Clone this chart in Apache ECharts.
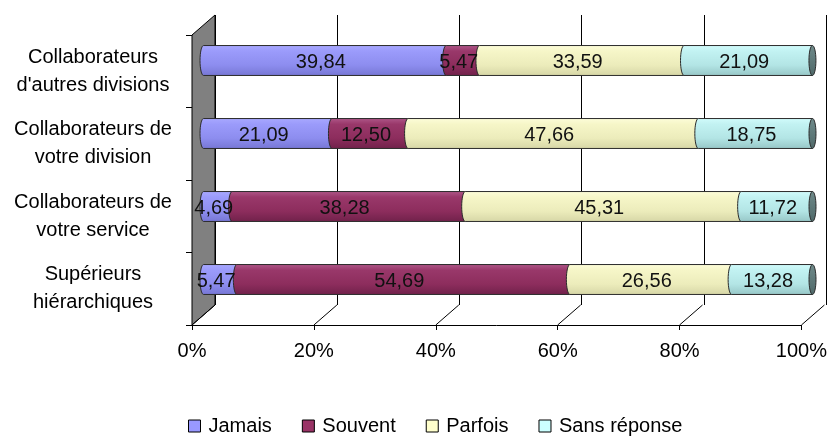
<!DOCTYPE html>
<html>
<head>
<meta charset="utf-8">
<script src="https://cdn.jsdelivr.net/npm/echarts@6/dist/echarts.min.js"></script>
<style>
  html, body { margin: 0; padding: 0; background: #fff; }
  #chart { width: 830px; height: 437px; }
</style>
</head>
<body>
<div id="chart"></div>
<script>
// ---- data ----
const categories = [
  "Collaborateurs\nd'autres divisions",
  "Collaborateurs de\nvotre division",
  "Collaborateurs de\nvotre service",
  "Supérieurs\nhiérarchiques"
];
const seriesNames = ['Jamais', 'Souvent', 'Parfois', 'Sans réponse'];
const jamais      = [39.84, 21.09, 4.69, 5.47];
const souvent     = [5.47, 12.50, 38.28, 54.69];
const parfois     = [33.59, 47.66, 45.31, 26.56];
const sansReponse = [21.09, 18.75, 11.72, 13.28];
const percentTicks = [0, 20, 40, 60, 80, 100];

// ---- layout / style ----
const FONT = "'Liberation Sans', Arial, Helvetica, sans-serif";
const FRONT = { left: 192, top: 35, width: 610, height: 290 };   // front edge of the plot box
const DEPTH = { x: 23, y: -20 };                                 // 3D depth offset of the back wall
const BAR_RATIO = 0.41;
const CAP_RX = 3.5;

const baseColors = ['#9999FF', '#993366', '#FFFFCC', '#CCFFFF'];
const shades = [
  ['#a9a9ff', '#9b9bfb', '#8d8def', '#7676d4'],
  ['#b0588a', '#99386a', '#8d2d5d', '#70214a'],
  ['#fdfdda', '#f6f6c8', '#ececbb', '#d6d6a6'],
  ['#d2fcfc', '#c2f2f2', '#b3e5e5', '#96c6c6']
];
const capShade = ['#6f8a8a', '#4f6969'];

function cylinderFill(stops) {
  return new echarts.graphic.LinearGradient(0, 0, 0, 1, [
    { offset: 0, color: stops[0] },
    { offset: 0.2, color: stops[1] },
    { offset: 0.65, color: stops[2] },
    { offset: 1, color: stops[3] }
  ]);
}

function fmt(v) { return v.toFixed(2).replace('.', ','); }

// stacked segments: [start, categoryIndex, end, value]
const valueLists = [jamais, souvent, parfois, sansReponse];
const segmentData = valueLists.map(() => []);
categories.forEach((c, i) => {
  let acc = 0;
  valueLists.forEach((list, k) => {
    segmentData[k].push([acc, i, acc + list[i], list[i]]);
    acc += list[i];
  });
});

function ellipsePath(cx, cy, rx, ry) {
  const kx = rx * 0.5523, ky = ry * 0.5523;
  return `M${cx} ${cy - ry}` +
    `C${cx + kx} ${cy - ry} ${cx + rx} ${cy - ky} ${cx + rx} ${cy}` +
    `C${cx + rx} ${cy + ky} ${cx + kx} ${cy + ry} ${cx} ${cy + ry}` +
    `C${cx - kx} ${cy + ry} ${cx - rx} ${cy + ky} ${cx - rx} ${cy}` +
    `C${cx - rx} ${cy - ky} ${cx - kx} ${cy - ry} ${cx} ${cy - ry}Z`;
}

function barRenderer(k) {
  const isLast = k === valueLists.length - 1;
  return function (params, api) {
    const start = api.value(0), cat = api.value(1), end = api.value(2), val = api.value(3);
    const p0 = api.coord([start, cat]);
    const p1 = api.coord([end, cat]);
    const h = api.size([0, 1])[1] * BAR_RATIO;
    const mid = p0[1], top = mid - h / 2, bot = mid + h / 2;
    const x0 = p0[0], x1 = p1[0];
    const rx = CAP_RX, kx = rx * 0.5523, ky = (h / 2) * 0.5523;
    const body = `M${x1} ${top}L${x0} ${top}` +
      `C${x0 - kx} ${top} ${x0 - rx} ${mid - ky} ${x0 - rx} ${mid}` +
      `C${x0 - rx} ${mid + ky} ${x0 - kx} ${bot} ${x0} ${bot}` +
      `L${x1} ${bot}`;
    const children = [{
      type: 'path',
      shape: { pathData: body },
      style: { fill: cylinderFill(shades[k]), stroke: '#2b2b2b', lineWidth: 1 }
    }];
    if (isLast) {
      children.push({
        type: 'path',
        shape: { pathData: ellipsePath(x1, mid, rx, h / 2) },
        style: {
          fill: new echarts.graphic.LinearGradient(0, 0, 0, 1, [
            { offset: 0, color: capShade[0] }, { offset: 1, color: capShade[1] }
          ]),
          stroke: '#2b2b2b', lineWidth: 1
        }
      });
    }
    children.push({
      type: 'text',
      x: (x0 + x1) / 2 - 4,
      y: mid + 2,
      z2: 100,
      style: {
        text: fmt(val), fill: '#111', fontSize: 20, fontFamily: FONT,
        align: 'center', verticalAlign: 'middle'
      }
    });
    return { type: 'group', children: children };
  };
}

// side wall and floor edges of the 3D box
function boxRenderer(params, api) {
  const cs = params.coordSys;
  const v = api.value(0);
  const x = api.coord([v, 0])[0];
  const bottom = cs.y + cs.height;
  const children = [];
  if (v === percentTicks[0]) {
    children.push({
      type: 'polygon',
      shape: { points: [[x, cs.y], [x + DEPTH.x, cs.y + DEPTH.y], [x + DEPTH.x, bottom + DEPTH.y], [x, bottom]] },
      style: { fill: '#808080', stroke: '#000', lineWidth: 1 }
    });
  }
  children.push({
    type: 'line',
    shape: { x1: x, y1: bottom, x2: x + DEPTH.x, y2: bottom + DEPTH.y },
    style: { stroke: '#000', lineWidth: 1 }
  });
  return { type: 'group', children: children };
}

const chart = echarts.init(document.getElementById('chart'), null, { renderer: 'canvas' });

const series = seriesNames.map((name, k) => ({
  name: name,
  type: 'custom',
  xAxisIndex: 2,
  yAxisIndex: 2,
  z: 3,
  itemStyle: { color: baseColors[k] },
  encode: { x: [0, 2], y: 1 },
  renderItem: barRenderer(k),
  data: segmentData[k]
}));

series.unshift({
  name: 'box',
  type: 'custom',
  xAxisIndex: 0,
  yAxisIndex: 0,
  z: 1,
  silent: true,
  encode: { x: 0, y: 1 },
  renderItem: boxRenderer,
  data: percentTicks.map(t => [t, 0])
});

chart.setOption({
  animation: false,
  backgroundColor: '#fff',
  textStyle: { fontFamily: FONT },
  grid: [
    { left: FRONT.left, top: FRONT.top, width: FRONT.width, height: FRONT.height },
    { left: FRONT.left + DEPTH.x, top: FRONT.top + DEPTH.y, width: FRONT.width + 1, height: FRONT.height },
    { left: FRONT.left + DEPTH.x / 2, top: FRONT.top + DEPTH.y / 2 - 1, width: FRONT.width - 1, height: FRONT.height + 2 }
  ],
  xAxis: [
    {
      gridIndex: 0, type: 'value', min: 0, max: 100, interval: 20,
      axisLine: { show: true, lineStyle: { color: '#000', width: 1 } },
      axisTick: { show: true, length: 5, lineStyle: { color: '#000' } },
      splitLine: { show: false },
      axisLabel: { formatter: '{value}%', color: '#000', fontSize: 20, fontFamily: FONT, margin: 16 }
    },
    {
      gridIndex: 1, type: 'value', min: 0, max: 100, interval: 20,
      axisLine: { show: false }, axisTick: { show: false }, axisLabel: { show: false },
      splitLine: { show: true, lineStyle: { color: '#000', width: 1 } }
    },
    { gridIndex: 2, type: 'value', min: 0, max: 100, show: false }
  ],
  yAxis: [
    {
      gridIndex: 0, type: 'category', data: categories, inverse: true,
      axisLine: { show: true, lineStyle: { color: '#000', width: 1 } },
      axisTick: { show: true, length: 6, lineStyle: { color: '#000' } },
      splitLine: { show: false },
      axisLabel: { color: '#000', fontSize: 20, fontFamily: FONT, lineHeight: 28, align: 'center', margin: 99 }
    },
    { gridIndex: 1, type: 'value', show: false },
    { gridIndex: 2, type: 'category', data: categories, inverse: true, show: false }
  ],
  legend: {
    data: seriesNames.map(n => ({ name: n, icon: 'rect' })),
    left: 183,
    top: 411,
    itemWidth: 12,
    itemHeight: 12,
    itemGap: 30,
    selectedMode: false,
    itemStyle: { borderColor: '#000', borderWidth: 1 },
    textStyle: { color: '#000', fontSize: 20, fontFamily: FONT, padding: [0, 0, 0, 3] }
  },
  series: series
});
</script>
</body>
</html>
